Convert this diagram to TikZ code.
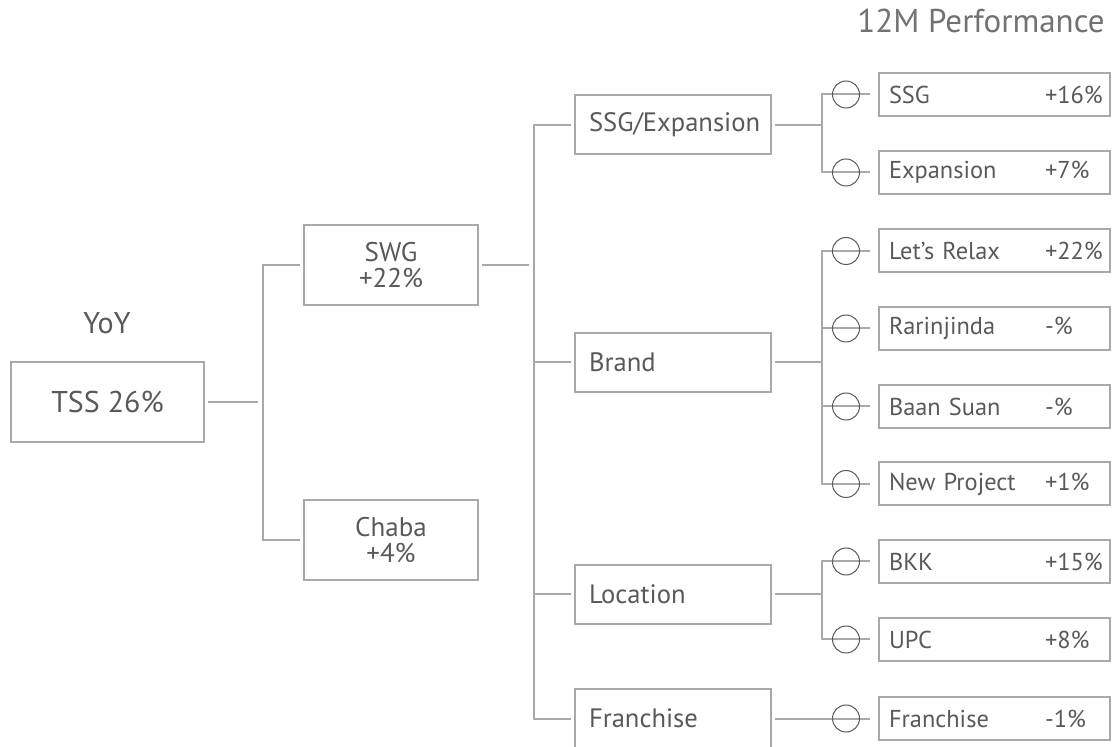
\documentclass[tikz,border=0pt]{standalone}
\usepackage{fontspec}
\setmainfont{PT Sans}
\usepackage{tikz}
\usetikzlibrary{calc}
\definecolor{boxgray}{HTML}{A7A9AC}
\definecolor{txtgray}{HTML}{58595B}
\tikzset{
   wire/.style={draw=boxgray, line width=1pt},
   box/.style={draw=boxgray, line width=1pt, text=txtgray, outer sep=2pt},
   rootbox/.style={box, minimum width=96.5pt, minimum height=40pt,
      font=\fontsize{15}{18}\selectfont},
   unitbox/.style={box, minimum width=87pt, minimum height=40pt, align=center,
      font=\fontsize{13.5}{12.8}\selectfont},
   splitbox/.style={box, text width=84pt, inner xsep=7pt, minimum height=29.5pt,
      align=left, font=\fontsize{13.3}{16}\selectfont},
   leafbox/.style={box, text width=105.5pt, inner xsep=5pt, minimum height=21.5pt,
      align=left, outer sep=4.5pt, font=\fontsize{12.2}{14}\selectfont},
   ring/.style={circle, draw=txtgray, line width=0.5pt, minimum size=13.5pt, inner sep=0pt},
   heading/.style={text=txtgray, font=\fontsize{15}{18}\selectfont},
    }

\begin{document}
\begin{tikzpicture}[x=0.5pt, y=-0.5pt]
   \useasboundingbox (0,0) rectangle (1113,747);

   \node[heading, anchor=base east, inner sep=0pt, text=txtgray!85, font=\fontsize{16.5}{20}\selectfont] (perf) at (1105,33) {12M Performance};
   \node[heading] (yoy) at (107,323) {YoY};

   % left part
   \node[rootbox] (tss) at (107.5,402) {TSS 26\%};
   \node[unitbox] (swg) at (391,265) {SWG\\+22\%};
   \node[unitbox] (chaba) at (391,540) {Chaba\\+4\%};

   % middle part
   \node[splitbox] (sse) at (673,125) {SSG/Expansion};
   \node[splitbox] (brand) at (673,362.5) {Brand};
   \node[splitbox] (loc) at (673,594.5) {Location};
   \node[splitbox] (frn) at (673,718.5) {Franchise};

   % right part
   \foreach \nm/\y/\txt/\pct in {ssg/94.5/SSG/+16\%, exp/172.5/Expansion/+7\%,
         lr/251/Let’s Relax/+22\%, rr/328.5/Rarinjinda/-\%, bs/406.5/Baan Suan/-\%,
         np/484/New Project/+1\%, bkk/561.5/BKK/+15\%, upc/639.5/UPC/+8\%,
         frl/718.5/Franchise/-1\%}{
      \node[leafbox] (\nm) at (994.5,\y) {\makebox[78pt][l]{\txt}\pct};
   }

   \coordinate (k1) at (263,402);
   \coordinate (k2) at (534,265);
   \coordinate (g1) at (822,125);
   \coordinate (g2) at (822,362.5);
   \coordinate (g3) at (822,594.5);

   \draw[wire, shorten >=2.5pt] (tss.east) -- (k1);
   \draw[wire] (swg.west) -| (k1) |- (chaba.west);

   \draw[wire, shorten >=2.5pt] (swg.east) -- (k2);
   \draw[wire] (sse.west) -| (k2) |- (frn.west);
   \draw[wire] (k2) |- (brand.west);
   \draw[wire] (k2) |- (loc.west);

   \draw[wire] (sse.east) -- (g1);
   \draw[wire] (ssg.west) -| (g1) |- (exp.west);
   \draw[wire] (brand.east) -- (g2);
   \draw[wire] (lr.west) -| (g2) |- (np.west);
   \draw[wire] (g2) |- (rr.west);
   \draw[wire] (g2) |- (bs.west);
   \draw[wire] (loc.east) -- (g3);
   \draw[wire] (bkk.west) -| (g3) |- (upc.west);
   \draw[wire] (frn.east) -- (frl.west);

   \foreach \nm in {ssg,exp,lr,rr,bs,np,bkk,upc,frl}{
      \node[ring] (r\nm) at (846,0 |- \nm.west) {};
   }
\end{tikzpicture}
\end{document}
